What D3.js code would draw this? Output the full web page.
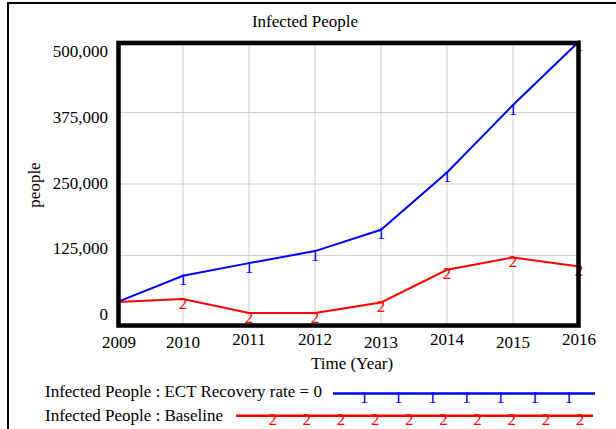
<!DOCTYPE html>
<html>
<head>
<meta charset="utf-8">
<script src="https://cdn.jsdelivr.net/npm/d3@7"></script>
<style>
  html, body { margin: 0; padding: 0; background: #fff; }
  svg { display: block; font-family: "Liberation Serif", "Times New Roman", serif; }
</style>
</head>
<body>
<svg id="chart" width="616" height="429"></svg>
<script>
// ── Data ──────────────────────────────────────────────────────────────
var years = [2009, 2010, 2011, 2012, 2013, 2014, 2015, 2016];
var ectValues = [43500, 89500, 111700, 132700, 169900, 270000, 388000, 499000];
var baselineValues = [43500, 48800, 24300, 24300, 42800, 100000, 121500, 105800];
var yTicks = [0, 125000, 250000, 375000, 500000];
var seriesNames = ["Infected People : ECT Recovery rate = 0", "Infected People : Baseline"];
var seriesMarks = ["1", "2"];
var seriesColors = ["#0000ff", "#ff0000"];

var svg = d3.select("#chart");
var W = 616, H = 429;
var FS = 17;

// outer frame (right / bottom edges run off the picture)
svg.append("rect")
  .attr("x", 8).attr("y", 3).attr("width", W).attr("height", H)
  .attr("fill", "none").attr("stroke", "#000").attr("stroke-width", 2);

var x = d3.scaleLinear().domain([2009, 2016]).range([117, 579]);
var y = d3.scaleLinear().domain([0, 500000]).range([327, 41]);
// Vensim spreads the y labels a little inside the frame
var yLab = d3.scaleLinear().domain([0, 500000]).range([320, 57]);

// grid
svg.append("g").selectAll("line").data(years).join("line")
  .attr("x1", d => x(d)).attr("x2", d => x(d))
  .attr("y1", y(500000)).attr("y2", y(0))
  .attr("stroke", "#d0d0d0").attr("stroke-width", 1);
svg.append("g").selectAll("line").data(yTicks).join("line")
  .attr("x1", x(2009)).attr("x2", x(2016))
  .attr("y1", d => y(d)).attr("y2", d => y(d))
  .attr("stroke", "#d0d0d0").attr("stroke-width", 1);

// title
svg.append("text").attr("x", 305).attr("y", 27)
  .attr("text-anchor", "middle").attr("font-size", FS).text("Infected People");

// y labels
var fmt = d3.format(",");
svg.append("g").selectAll("text").data(yTicks).join("text")
  .attr("x", 108).attr("y", d => yLab(d))
  .attr("text-anchor", "end").attr("font-size", FS)
  .text(d => fmt(d));

svg.append("text")
  .attr("transform", "translate(40,185) rotate(-90)")
  .attr("text-anchor", "middle").attr("font-size", FS).text("people");

// x labels (Vensim staggers them slightly)
var xLabLift = [0, 0, 3, 3, 0, 3, 0, 3];
svg.append("g").selectAll("text").data(years).join("text")
  .attr("x", (d, i) => x(d) + (i === 0 ? 2 : 0))
  .attr("y", (d, i) => 348 - xLabLift[i])
  .attr("text-anchor", "middle").attr("font-size", FS)
  .text(d => d);

svg.append("text").attr("x", 352).attr("y", 369)
  .attr("text-anchor", "middle").attr("font-size", FS).text("Time (Year)");

// series
var line = d3.line().x((d, i) => x(years[i])).y(d => y(d));
[ectValues, baselineValues].forEach(function (vals, s) {
  svg.append("path").datum(vals)
    .attr("d", line).attr("fill", "none")
    .attr("stroke", seriesColors[s]).attr("stroke-width", 2);
  svg.append("g").selectAll("text").data(vals.slice(1)).join("text")
    .attr("x", (d, i) => x(years[i + 1]))
    .attr("y", d => y(d) + 9.5)
    .attr("text-anchor", "middle").attr("font-size", FS)
    .attr("fill", seriesColors[s]).text(seriesMarks[s]);
});

// plot frame
svg.append("rect")
  .attr("x", 118.5).attr("y", 43)
  .attr("width", 460).attr("height", 282.5)
  .attr("fill", "none").attr("stroke", "#000").attr("stroke-width", 4.5);

// legend
var legend = [
  { y: 393.5, text: 397, x0: 333, x1: 595, marks: d3.range(364.3, 590, 34.07) },
  { y: 415.7, text: 421, x0: 236, x1: 593, marks: d3.range(272.7, 590, 34.15) }
];
legend.forEach(function (L, s) {
  svg.append("text").attr("x", 45).attr("y", L.text)
    .attr("font-size", FS).text(seriesNames[s]);
  svg.append("line").attr("x1", L.x0).attr("x2", L.x1)
    .attr("y1", L.y).attr("y2", L.y)
    .attr("stroke", seriesColors[s]).attr("stroke-width", 2.5);
  svg.append("g").selectAll("text").data(L.marks).join("text")
    .attr("x", d => d).attr("y", L.y + 9)
    .attr("text-anchor", "middle").attr("font-size", FS)
    .attr("fill", seriesColors[s]).text(seriesMarks[s]);
});
</script>
</body>
</html>
